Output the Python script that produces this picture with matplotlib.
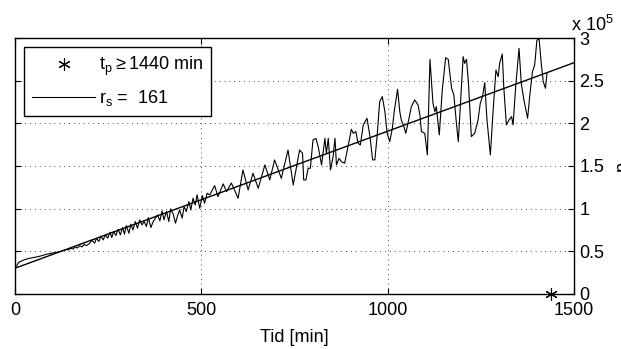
import matplotlib.pyplot as plt
from matplotlib.lines import Line2D

plt.rcParams['font.family'] = ['Liberation Sans', 'DejaVu Sans']
plt.rcParams['mathtext.default'] = 'regular'
plt.rcParams['font.size'] = 13

# tid [min] och tryck p (enhet 1e5)
tid = [0, 5, 10, 18, 25, 40, 55, 70, 85, 100, 115, 129, 137, 143, 150, 156, 162, 168, 174, 180,
       186, 192, 201, 207, 214, 219, 225, 231, 237, 243, 249, 255, 260, 265, 271, 277, 283, 289,
       294, 299, 306, 311, 317, 323, 329, 335, 341, 347, 353, 358, 365, 371, 377, 383, 389, 395,
       400, 407, 413, 418, 425, 431, 436, 442, 449, 454, 460, 467, 472, 478, 484, 489, 496, 503,
       509, 516, 523, 536, 545, 559, 568, 581, 599, 612, 626, 639, 653, 671, 684, 697, 715, 733,
       747, 764, 772, 775, 781, 787, 793, 800, 808, 814, 823, 832, 836, 841, 847, 854, 859, 863,
       870, 876, 885, 894, 903, 908, 915, 921, 927, 935, 945, 953, 960, 966, 972, 979, 986, 993,
       999, 1006, 1013, 1018, 1027, 1033, 1037, 1044, 1049, 1055, 1064, 1073, 1082, 1087, 1091,
       1100, 1107, 1114, 1122, 1127, 1131, 1139, 1147, 1156, 1163, 1172, 1178, 1185, 1190, 1196,
       1203, 1207, 1212, 1217, 1225, 1234, 1243, 1249, 1255, 1261, 1267, 1276, 1283, 1291, 1297,
       1301, 1308, 1312, 1319, 1326, 1333, 1337, 1344, 1353, 1359, 1366, 1376, 1382, 1389, 1395,
       1401, 1407, 1413, 1418, 1424, 1428]
p = [0.30, 0.33, 0.37, 0.385, 0.40, 0.418, 0.43, 0.445, 0.465, 0.478, 0.49, 0.505, 0.52, 0.515,
     0.535, 0.525, 0.55, 0.538, 0.565, 0.55, 0.58, 0.565, 0.594, 0.629, 0.594, 0.653, 0.614,
     0.676, 0.633, 0.692, 0.653, 0.723, 0.661, 0.731, 0.684, 0.758, 0.692, 0.778, 0.700, 0.801,
     0.711, 0.817, 0.750, 0.848, 0.770, 0.868, 0.809, 0.848, 0.790, 0.895, 0.778, 0.848, 0.887,
     0.926, 0.856, 0.973, 0.868, 0.965, 0.848, 0.997, 0.934, 0.829, 0.907, 0.985, 0.887, 1.024,
     0.965, 1.082, 0.985, 1.122, 1.043, 1.161, 1.004, 1.153, 1.063, 1.180, 1.160, 1.27, 1.140,
     1.29, 1.199, 1.30, 1.121, 1.453, 1.219, 1.414, 1.238, 1.512, 1.336, 1.570, 1.355, 1.687,
     1.277, 1.687, 1.649, 1.336, 1.336, 1.473, 1.473, 1.805, 1.824, 1.727, 1.512, 1.824, 1.649,
     1.824, 1.453, 1.610, 1.824, 1.512, 1.590, 1.551, 1.532, 1.727, 1.930, 1.883, 1.903, 1.766,
     1.746, 1.981, 2.059, 1.844, 1.571, 1.571, 1.844, 2.254, 2.313, 2.137, 1.883, 1.785, 1.942,
     2.137, 2.399, 2.137, 2.039, 1.961, 1.883, 2.000, 2.196, 2.274, 2.215, 2.098, 1.903, 1.883,
     1.629, 2.750, 2.235, 2.137, 2.196, 1.864, 2.391, 2.770, 2.750, 2.411, 2.332, 2.000, 1.785,
     2.235, 2.782, 2.703, 2.750, 2.489, 1.844, 1.883, 2.039, 2.235, 2.313, 2.477, 2.039, 1.629,
     2.118, 2.625, 2.547, 2.703, 2.813, 2.430, 1.981, 2.039, 2.078, 1.981, 2.430, 2.879, 2.469,
     2.274, 2.059, 2.332, 2.606, 2.684, 2.977, 2.985, 2.684, 2.489, 2.411, 2.586]

# anpassad linje
fit_tid = [0, 1500]
fit_p = [0.30, 2.71]

# tp-markering
tp_tid = [1440]
tp_p = [0]

asterisk = (6, 2, 0)

fig = plt.figure(figsize=(6.21, 3.49), dpi=100)
ax = fig.add_axes([0.024, 0.158, 0.900, 0.733])

ax.plot(tp_tid, tp_p, linestyle='none', marker=asterisk, color='k', markersize=9,
        markeredgewidth=0.8, clip_on=False, zorder=5)
ax.plot(tid, p, color='k', linewidth=0.8)
ax.plot(fit_tid, fit_p, color='k', linewidth=1.0)

ax.set_xlim(0, 1500)
ax.set_ylim(0, 3)
ax.set_xticks([0, 500, 1000, 1500])
ax.set_yticks([0, 0.5, 1, 1.5, 2, 2.5, 3])
ax.set_yticklabels(['0', '0.5', '1', '1.5', '2', '2.5', '3'])
ax.yaxis.tick_right()
ax.tick_params(direction='in', length=4, width=0.8, top=True, bottom=True,
               left=True, right=True, labelsize=13, pad=4)
ax.tick_params(axis='x', pad=6)
ax.grid(True, color='0.3', linestyle=(0, (1, 4)), linewidth=0.7)
for s in ax.spines.values():
    s.set_linewidth(1.0)

ax.set_xlabel('Tid [min]', fontsize=13, labelpad=7)
ax.text(1.072, 0.5, 'p', transform=ax.transAxes, fontsize=13, rotation=90,
        ha='left', va='center')
ax.text(0.995, 1.01, r'x 10$^{5}$', transform=ax.transAxes, fontsize=13,
        ha='left', va='bottom')

handles = [Line2D([], [], linestyle='none', marker=asterisk, color='k', markersize=9,
                  markeredgewidth=0.8),
           Line2D([], [], color='k', linewidth=0.8)]
labels = [r'$t_p \geq 1440$ min', r'$r_s$ =  161']
leg = ax.legend(handles, labels, loc='upper left', handlelength=3.5, fancybox=False,
                framealpha=1, edgecolor='k', labelspacing=0.55, borderpad=0.45,
                handletextpad=0.2, borderaxespad=0.5, fontsize=13)
leg.get_frame().set_linewidth(1.0)

fig.savefig('out.png', dpi=100)
